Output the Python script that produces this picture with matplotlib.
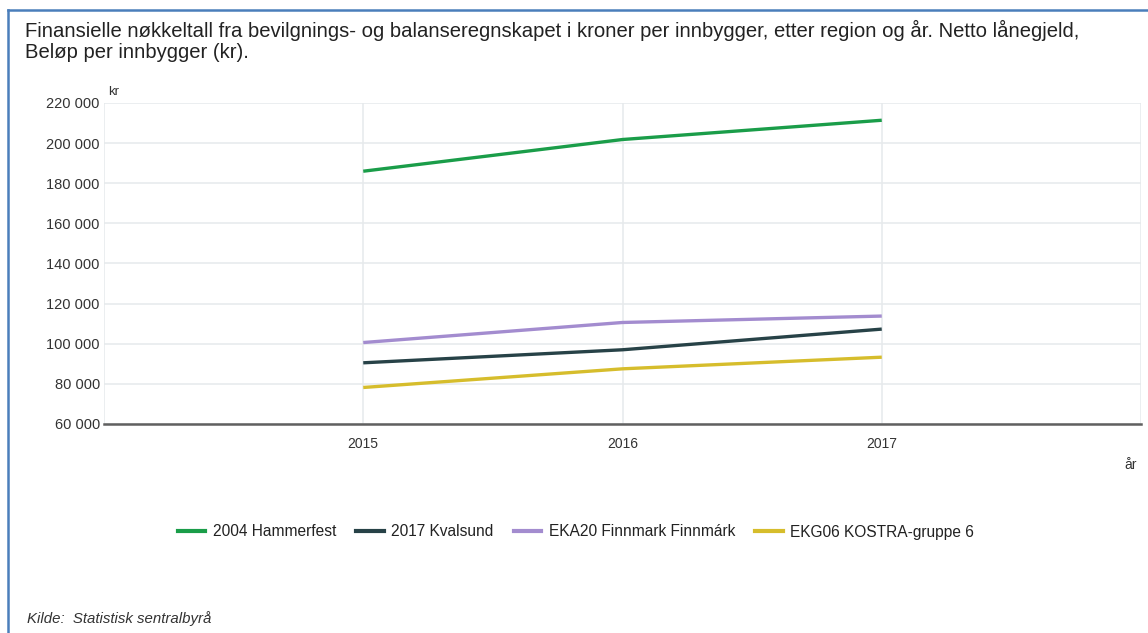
import matplotlib.pyplot as plt
from matplotlib.lines import Line2D
from matplotlib.ticker import FuncFormatter

plt.rcParams['font.family'] = ['Liberation Sans', 'DejaVu Sans']

# data
years = [2015, 2016, 2017]
hammerfest = [186000, 201800, 211400]
kvalsund = [90500, 97000, 107300]
finnmark = [100600, 110600, 113800]
kostra = [78200, 87500, 93300]

names = ['2004 Hammerfest', '2017 Kvalsund', 'EKA20 Finnmark Finnmárk', 'EKG06 KOSTRA-gruppe 6']
colors = ['#1a9d49', '#274247', '#a38ccf', '#d6bd2c']
yticks = [60000, 80000, 100000, 120000, 140000, 160000, 180000, 200000, 220000]

fig = plt.figure(figsize=(11.48, 6.33), dpi=100)
ax = fig.add_axes([104/1148, 1 - 424/633, (1141-104)/1148, (424-103)/633])

for vals, c in zip([hammerfest, kvalsund, finnmark, kostra], colors):
    ax.plot(years, vals, color=c, lw=2.4, solid_capstyle='butt', zorder=3)

ax.set_xlim(2014, 2018)
ax.set_ylim(60000, 220000)
ax.set_xticks([2014, 2015, 2016, 2017, 2018])
ax.set_xticklabels(['', '2015', '2016', '2017', ''])
ax.set_yticks(yticks)
ax.yaxis.set_major_formatter(FuncFormatter(lambda v, p: f'{int(v):,}'.replace(',', ' ')))
ax.grid(True, color='#e6eaec', lw=1.1, zorder=0)
ax.tick_params(length=0, labelsize=10.5, colors='#333333', pad=3)
ax.tick_params(axis='x', labelsize=10, pad=9)
for s in ['top', 'right', 'left']:
    ax.spines[s].set_visible(False)
ax.spines['bottom'].set_color('#606060')
ax.spines['bottom'].set_linewidth(1.8)

fig.text(108/1148, 1 - 92/633, 'kr', fontsize=9.5, color='#333333', va='center', ha='left')
fig.text(1131/1148, 1 - 465/633, 'år', fontsize=10, color='#333333', va='center', ha='center')

fig.text(25/1148, 1 - 30/633, 'Finansielle nøkkeltall fra bevilgnings- og balanseregnskapet i kroner per innbygger, etter region og år. Netto lånegjeld,',
         fontsize=14.6, color='#222222', va='center', ha='left')
fig.text(25/1148, 1 - 53/633, 'Beløp per innbygger (kr).', fontsize=14.6, color='#222222', va='center', ha='left')

handles = [Line2D([], [], color=c, lw=3) for c in colors]
fig.legend(handles, names, loc='center', bbox_to_anchor=(576/1148, 1 - 532/633), ncol=4,
           frameon=False, fontsize=11.2, handlelength=1.75, handletextpad=0.5, columnspacing=1.3,
           labelcolor='#222222')

fig.text(27/1148, 1 - 619/633, 'Kilde:  Statistisk sentralbyrå', fontsize=10.8, style='italic',
         color='#333333', va='center', ha='left')

# blue frame at left and top
fig.add_artist(Line2D([8/1148, 8/1148], [0, 1 - 10/633], color='#4a7ebb', lw=1.8))
fig.add_artist(Line2D([8/1148, 1], [1 - 10/633, 1 - 10/633], color='#4a7ebb', lw=1.8))

fig.savefig('out.png', dpi=100)
